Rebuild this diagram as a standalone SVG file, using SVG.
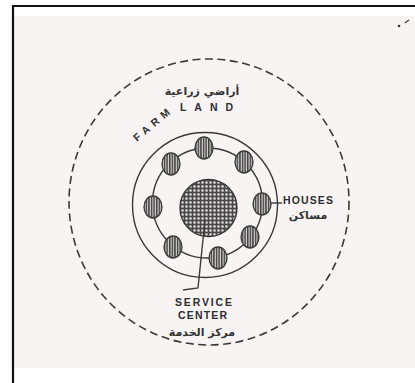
<svg xmlns="http://www.w3.org/2000/svg" width="415" height="383" viewBox="0 0 415 383">
  <defs>
    <pattern id="hatch" patternUnits="userSpaceOnUse" width="2.6" height="4">
      <rect width="2.6" height="4" fill="#dcd8d8"/>
      <rect x="0" width="1.5" height="4" fill="#404040"/>
    </pattern>
    <pattern id="grid" patternUnits="userSpaceOnUse" width="4" height="4">
      <rect width="4" height="4" fill="#484848"/>
      <rect x="1.4" y="1.4" width="2.2" height="2.2" fill="#eeeaea"/>
    </pattern>
    <style>
      .ln { fill: none; stroke: #3a3a3a; stroke-width: 1.4; }
      .dash { fill: none; stroke: #3a3a3a; stroke-width: 1.6; stroke-dasharray: 8 4.5; }
      .house { fill: url(#hatch); stroke: #3a3a3a; stroke-width: 1.3; }
      .lbl { font-family: "Liberation Sans", Arial, sans-serif; font-weight: bold; font-size: 10.5px; fill: #2e2e2e; }
      .ar { font-family: "DejaVu Sans", "Noto Sans", sans-serif; font-size: 11px; font-weight: bold; fill: #333; }
    </style>
  </defs>

  <rect width="415" height="383" fill="#ffffff"/>
  <rect x="14" y="16" width="401" height="352" fill="#f8f4f4"/>
  <path d="M13 383 V6 H415" fill="none" stroke="#111" stroke-width="2.2"/>
  <circle cx="399" cy="26" r="1.3" fill="#333"/>
  <path d="M405 23 L409 20" stroke="#444" stroke-width="1.4"/>

  <g id="farm-land">
    <ellipse class="dash" cx="209" cy="202" rx="140" ry="143"/>
    <text class="lbl" x="137" y="142" transform="rotate(-40 137 142)" textLength="44" lengthAdjust="spacing">FARM</text>
    <text class="lbl" x="180" y="111" textLength="53" lengthAdjust="spacing">LAND</text>
    <text class="ar" x="202" y="95" text-anchor="middle">أراضي زراعية</text>
  </g>

  <g id="village-boundary">
    <circle class="ln" cx="205" cy="205" r="72.5"/>
  </g>

  <g id="houses-ring">
    <circle class="ln" cx="207.5" cy="203" r="55"/>
  </g>

  <g id="service-center">
    <circle cx="208.5" cy="208" r="28.5" fill="url(#grid)" stroke="#3a3a3a" stroke-width="1.4"/>
    <text class="lbl" x="175" y="306" textLength="57" lengthAdjust="spacing">SERVICE</text>
    <text class="lbl" x="178" y="319" textLength="49" lengthAdjust="spacing">CENTER</text>
    <text class="ar" x="202" y="336" text-anchor="middle">مركز الخدمة</text>
  </g>

  <g id="houses">
    <ellipse class="house" cx="204" cy="148" rx="9" ry="11"/>
    <ellipse class="house" cx="244" cy="162" rx="9" ry="11"/>
    <ellipse class="house" cx="262" cy="204" rx="9" ry="11"/>
    <ellipse class="house" cx="250" cy="237" rx="9" ry="11"/>
    <ellipse class="house" cx="218" cy="258" rx="9" ry="11"/>
    <ellipse class="house" cx="173" cy="247" rx="9" ry="11"/>
    <ellipse class="house" cx="153" cy="207" rx="9" ry="11"/>
    <ellipse class="house" cx="171" cy="164" rx="9" ry="11"/>
    <text class="lbl" x="283" y="204" textLength="50" lengthAdjust="spacing">HOUSES</text>
    <text class="ar" x="308" y="219" text-anchor="middle">مساكن</text>
  </g>

  <g id="connectors">
    <path class="ln" d="M205 220 L198 288 L183 290"/>
    <path class="ln" d="M271 203 H282"/>
  </g>
</svg>
